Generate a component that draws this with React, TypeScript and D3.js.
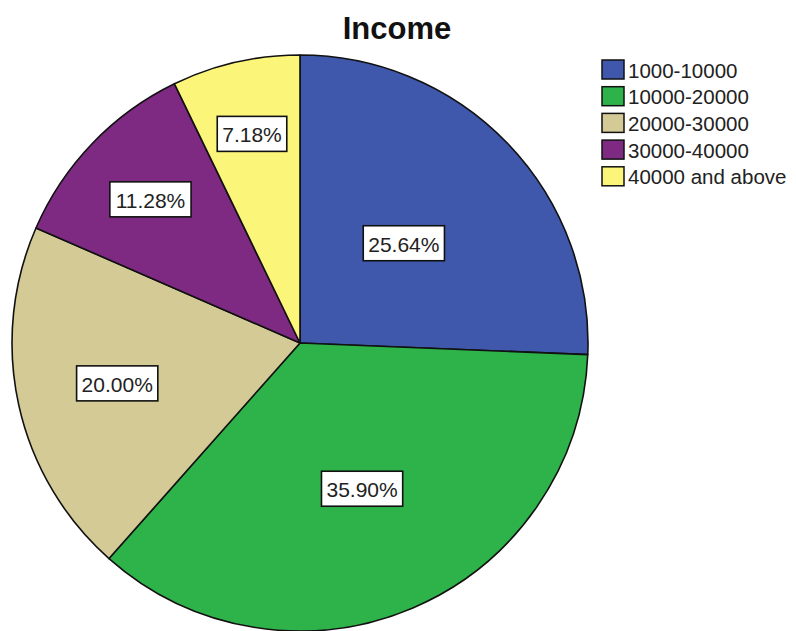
import React from "react";
import * as d3 from "d3";

const categories = ["1000-10000", "10000-20000", "20000-30000", "30000-40000", "40000 and above"];
const percents = [25.64, 35.9, 20.0, 11.28, 7.18];
const colors = ["#3F58AC", "#2EB34A", "#D4CA96", "#7E2A82", "#FBF57A"];
const title = "Income";

// layout: radial fraction for each label (SPSS-like placement)
const labelRadiusFrac = [0.5, 0.55, 0.65, 0.72, 0.745];

const W = 796;
const H = 631;
const cx = 300;
const cy = 343;
const R = 288;
const FONT = "'Liberation Sans', Arial, sans-serif";

function textWidth(s: string, size: number) {
  let w = 0;
  for (const ch of s) {
    if (ch >= "0" && ch <= "9") w += 0.556;
    else if (ch === ".") w += 0.278;
    else if (ch === "%") w += 0.889;
    else w += 0.556;
  }
  return w * size;
}

export default function App() {
  const pie = d3.pie<number>().sort(null).value((d) => d)(percents);
  const arc = d3.arc<d3.PieArcDatum<number>>().innerRadius(0).outerRadius(R);
  const labelFont = 21;
  return (
    <svg width={W} height={H} style={{ position: "absolute", left: 0, top: 0, background: "#fff" }}>
      <text x={397} y={39} textAnchor="middle" fontFamily={FONT} fontWeight="bold" fontSize={31} fill="#111">
        {title}
      </text>
      <g transform={`translate(${cx},${cy})`}>
        {pie.map((p, i) => (
          <path key={i} d={arc(p) || ""} fill={colors[i]} stroke="#111" strokeWidth={1.6} strokeLinejoin="round" />
        ))}
        {pie.map((p, i) => {
          const mid = (p.startAngle + p.endAngle) / 2;
          const r = R * labelRadiusFrac[i];
          const x = Math.sin(mid) * r;
          const y = -Math.cos(mid) * r;
          const label = percents[i].toFixed(2) + "%";
          const bw = textWidth(label, labelFont) + 10;
          const bh = 35;
          return (
            <g key={"l" + i} transform={`translate(${x},${y})`}>
              <rect x={-bw / 2} y={-bh / 2} width={bw} height={bh} fill="#fff" stroke="#111" strokeWidth={1.6} />
              <text x={0} y={1} textAnchor="middle" dominantBaseline="central" fontFamily={FONT} fontSize={labelFont} fill="#222">
                {label}
              </text>
            </g>
          );
        })}
      </g>
      <g transform="translate(602,60)">
        {categories.map((c, i) => (
          <g key={c} transform={`translate(0,${i * 26.7})`}>
            <rect x={0} y={0} width={22} height={19} fill={colors[i]} stroke="#111" strokeWidth={1.5} />
            <text x={26} y={10} dominantBaseline="central" fontFamily={FONT} fontSize={20.5} fill="#222">
              {c}
            </text>
          </g>
        ))}
      </g>
    </svg>
  );
}
